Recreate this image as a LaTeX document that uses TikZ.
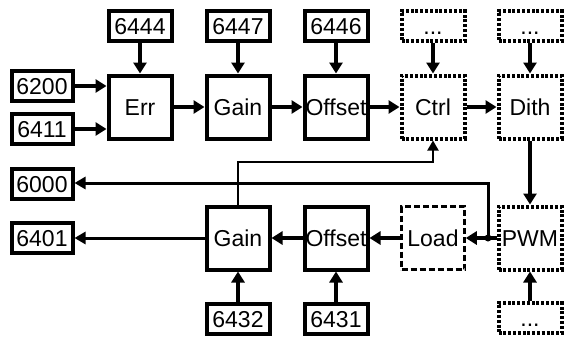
\documentclass[tikz,border=0pt]{standalone}
\usepackage{fontspec}
\setmainfont{Liberation Sans}
\usetikzlibrary{arrows.meta}
\begin{document}
\begin{tikzpicture}[x=1pt,y=-1pt,
  blk/.style={draw, line width=4pt, minimum width=63pt, minimum height=63pt,
    inner sep=0pt, font=\fontsize{23}{26}\selectfont, text height=16.5pt, text depth=0pt},
  reg/.style={blk, minimum height=30pt},
  lreg/.style={reg, minimum width=61pt},
  dotted box/.style={dash pattern=on 3pt off 1.8pt, line width=4pt},
  dashed box/.style={dash pattern=on 6pt off 3pt, line width=2.5pt},
  arr/.style={line width=3.6pt, -{Triangle[length=11pt,width=13pt]}},
  midarr/.style={line width=3pt, -{Triangle[length=11pt,width=12pt]}},
  thinarr/.style={line width=2pt, -{Triangle[length=10pt,width=11pt]}}
]
\useasboundingbox (0,0) rectangle (565,340);

% upper signal chain
\node[blk] (err) at (140,107) {Err};
\node[blk] (gain1) at (238,107) {Gain};
\node[blk] (off1) at (336,107) {Offset};
\node[blk, dotted box] (ctrl) at (433,107) {Ctrl};
\node[blk, dotted box] (dith) at (530,107) {Dith};

% parameters above
\node[reg] (p6444) at (140,26) {6444};
\node[reg] (p6447) at (238,26) {6447};
\node[reg] (p6446) at (336,26) {6446};
\node[reg, dotted box] (dc) at (433,26) {...};
\node[reg, dotted box] (dd) at (530,26) {...};

% inputs
\node[lreg] (p6200) at (42,86) {6200};
\node[lreg] (p6411) at (42,129) {6411};

% outputs
\node[lreg] (p6000) at (42,184) {6000};
\node[lreg] (p6401) at (42,238) {6401};

% lower signal chain
\node[blk] (gain2) at (238,238) {Gain};
\node[blk] (off2) at (336,238) {Offset};
\node[blk, dashed box] (load) at (433,238) {Load};
\node[blk, dotted box] (pwm) at (530,238) {PWM};

% parameters below
\node[reg] (p6432) at (238,319) {6432};
\node[reg] (p6431) at (336,319) {6431};
\node[reg, dotted box] (dp) at (530,318) {...};

% connections
\draw[arr] (p6200.east) -- (err.west |- p6200.east);
\draw[arr] (p6411.east) -- (err.west |- p6411.east);
\draw[arr] (p6444) -- (err);
\draw[arr] (err) -- (gain1);
\draw[arr] (p6447) -- (gain1);
\draw[arr] (gain1) -- (off1);
\draw[arr] (p6446) -- (off1);
\draw[arr] (off1) -- (ctrl);
\draw[arr] (dc) -- (ctrl);
\draw[arr] (ctrl) -- (dith);
\draw[arr] (dd) -- (dith);
\draw[arr] (dith) -- (pwm);
\draw[arr] (dp) -- (pwm);

\coordinate (jn) at (488,238);
\draw[arr] (pwm.west) -- (load.east);
\fill (jn) circle (3.5pt);
\draw[midarr] (jn) |- (p6000.east |- 0,183);
\draw[arr] (load) -- (off2);
\draw[arr] (off2) -- (gain2);
\draw[midarr] (gain2) -- (p6401);
\draw[arr] (p6432) -- (gain2);
\draw[arr] (p6431) -- (off2);
\draw[thinarr] (gain2.north) |- (433,162) -- (ctrl.south);
\end{tikzpicture}
\end{document}
